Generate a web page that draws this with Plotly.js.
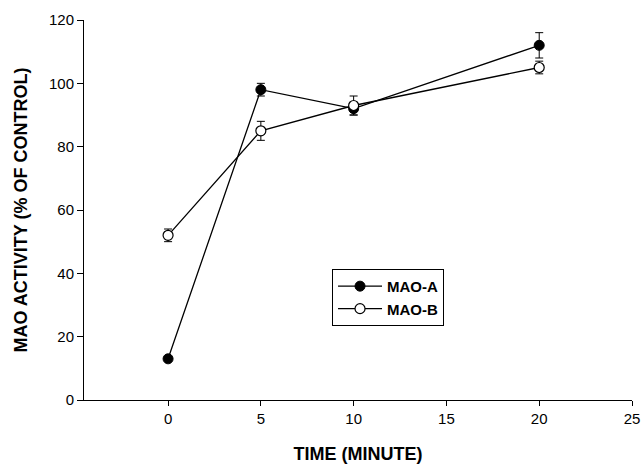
<!DOCTYPE html>
<html>
<head>
<meta charset="utf-8">
<script src="https://cdn.plot.ly/plotly-3.0.1.min.js"></script>
<style>html,body{margin:0;padding:0;background:#fff;}#chart{width:642px;height:464px;}</style>
</head>
<body>
<div id="chart"></div>
<script>
var timeMin = [0, 5, 10, 20];
var maoA = [13, 98, 92, 112];
var maoAErr = [0, 2, 2, 4];
var maoB = [52, 85, 93, 105];
var maoBErr = [2, 3, 3, 2];
var xTicks = [0, 5, 10, 15, 20, 25];
var yTicks = [0, 20, 40, 60, 80, 100, 120];

var font = "Liberation Sans, Arial, Helvetica, sans-serif";

var traces = [
  {
    x: timeMin, y: maoA, name: "MAO-A", type: "scatter", mode: "lines+markers",
    line: {color: "#000", width: 1.3},
    marker: {symbol: "circle", size: 10, color: "#000", line: {color: "#000", width: 1}},
    error_y: {type: "data", array: maoAErr, visible: true, color: "#000", thickness: 1, width: 4}
  },
  {
    x: timeMin, y: maoB, name: "MAO-B", type: "scatter", mode: "lines+markers",
    line: {color: "#000", width: 1.3},
    marker: {symbol: "circle", size: 10, color: "#fff", line: {color: "#000", width: 1.2}},
    error_y: {type: "data", array: maoBErr, visible: true, color: "#000", thickness: 1, width: 4}
  }
];

var layout = {
  width: 642, height: 464,
  margin: {l: 84, r: 10, t: 20, b: 64},
  paper_bgcolor: "#fff", plot_bgcolor: "#fff",
  font: {family: font, color: "#000", size: 15},
  showlegend: true,
  legend: {
    x: 0.4526, y: 0.345, xanchor: "left", yanchor: "top",
    bgcolor: "#fff", bordercolor: "#000", borderwidth: 1,
    font: {family: font, size: 15, color: "#000", weight: "bold"},
    itemwidth: 44
  },
  xaxis: {
    range: [-4.53, 25], tickvals: xTicks, ticktext: xTicks.map(String),
    showgrid: false, zeroline: false, showline: true, linecolor: "#000", linewidth: 1,
    ticks: "outside", ticklen: 5, tickcolor: "#000", tickwidth: 1,
    tickfont: {family: font, size: 15, color: "#000"},
    title: {text: "TIME (MINUTE)", font: {family: font, size: 18, color: "#000", weight: "bold"}, standoff: 21},
    automargin: false
  },
  yaxis: {
    range: [0, 120], tickvals: yTicks, ticktext: yTicks.map(String),
    showgrid: false, zeroline: false, showline: true, linecolor: "#000", linewidth: 1,
    ticks: "outside", ticklen: 6, tickcolor: "#000", tickwidth: 1,
    tickfont: {family: font, size: 15, color: "#000"},
    title: {text: "MAO ACTIVITY (% OF CONTROL)", font: {family: font, size: 18, color: "#000", weight: "bold"}, standoff: 16},
    automargin: false
  }
};

Plotly.newPlot("chart", traces, layout, {displayModeBar: false, staticPlot: true});
</script>
</body>
</html>
